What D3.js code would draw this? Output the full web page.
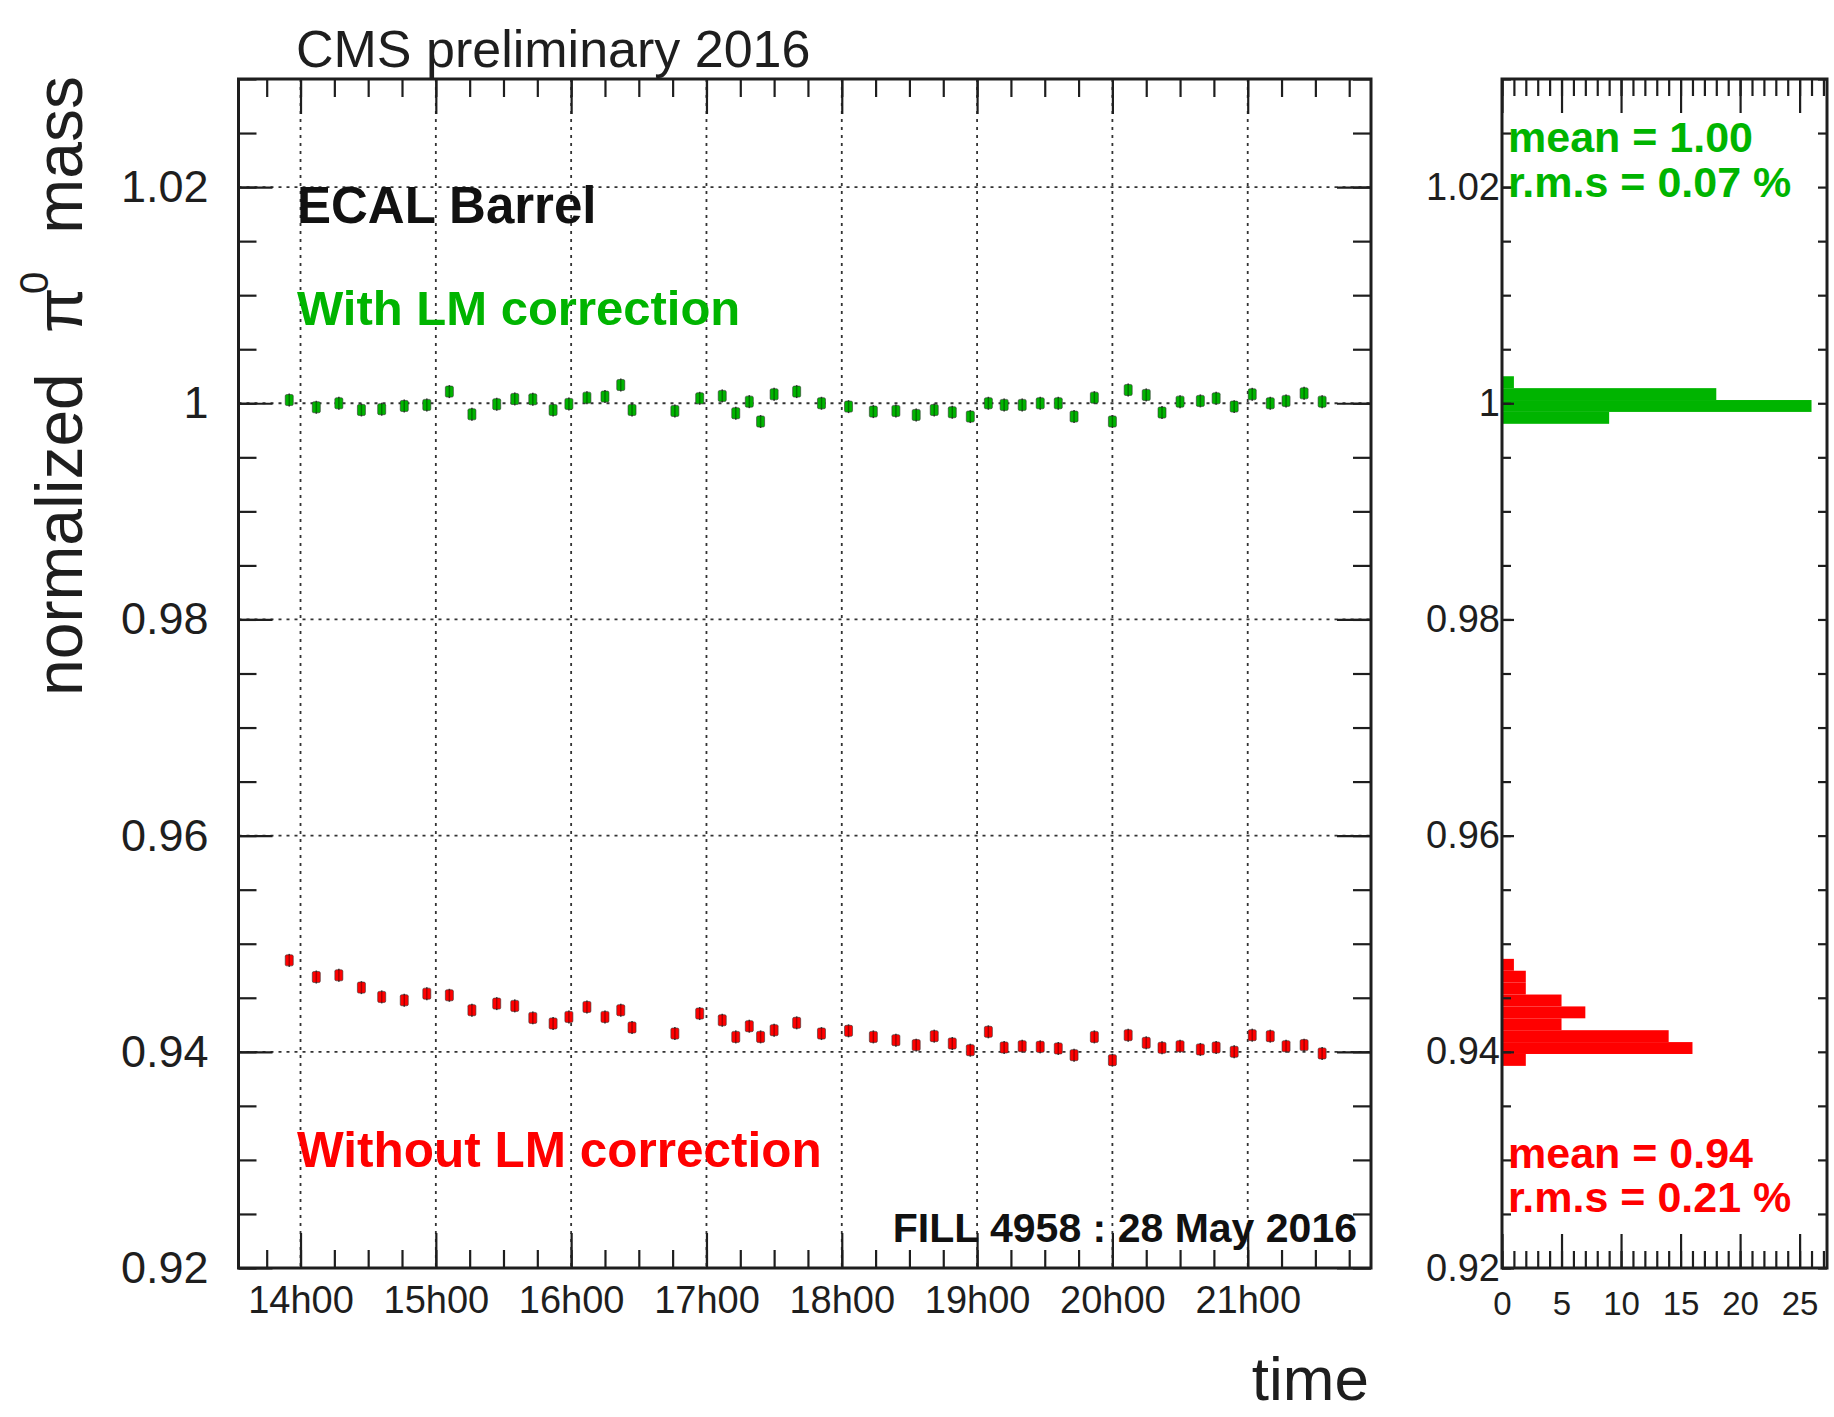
<!DOCTYPE html>
<html>
<head>
<meta charset="utf-8">
<script src="https://cdn.jsdelivr.net/npm/d3@7"></script>
<style>
  html, body { margin: 0; padding: 0; background: #fff; }
  svg { display: block; }
  text { font-family: "Liberation Sans", Arial, Helvetica, sans-serif; }
</style>
</head>
<body>
<svg id="chart" width="1834" height="1417"></svg>
<script>
// ---------------- DATA ----------------
const times = ["13:55","14:07","14:17","14:27","14:36","14:46","14:56","15:06","15:16","15:27",
  "15:35","15:43","15:52","15:59","16:07","16:15","16:22","16:27","16:46","16:57",
  "17:07","17:13","17:19","17:24","17:30","17:40","17:51","18:03","18:14","18:24",
  "18:33","18:41","18:49","18:57","19:05","19:12","19:20","19:28","19:36","19:43",
  "19:52","20:00","20:07","20:15","20:22","20:30","20:39","20:46","20:54","21:02",
  "21:10","21:17","21:25","21:33"];
const withLM = [1.00030,0.99963,1.00000,0.99938,0.99945,0.99975,0.99985,1.00108,0.99898,0.99991,
  1.00040,1.00037,0.99938,0.99994,1.00052,1.00062,1.00169,0.99938,0.99929,1.00046,
  1.00068,0.99908,1.00015,0.99831,1.00083,1.00108,1.00000,0.99969,0.99923,0.99929,
  0.99892,0.99938,0.99917,0.99877,1.00000,0.99985,0.99985,1.00000,1.00000,0.99877,
  1.00052,0.99831,1.00123,1.00077,0.99914,1.00015,1.00022,1.00046,0.99969,1.00083,
  1.00000,1.00022,1.00092,1.00015];
const withoutLM = [0.94846,0.94692,0.94708,0.94594,0.94508,0.94477,0.94538,0.94523,0.94385,0.94446,
  0.94425,0.94314,0.94262,0.94323,0.94415,0.94323,0.94385,0.94225,0.94169,0.94354,
  0.94292,0.94138,0.94237,0.94138,0.94200,0.94268,0.94169,0.94194,0.94138,0.94108,
  0.94062,0.94145,0.94077,0.94015,0.94185,0.94040,0.94052,0.94046,0.94031,0.93969,
  0.94138,0.93923,0.94154,0.94083,0.94037,0.94052,0.94022,0.94040,0.94000,0.94154,
  0.94145,0.94052,0.94062,0.93985];
const pointError = 0.0006;

// projection histograms (bin low edges, width 0.0011)
const binWidth = 0.0011;
const greenBinLow = [0.9981, 0.9992, 1.0003, 1.0014];
const greenCounts = [9, 26, 18, 1];
const redBinLow = [0.9387, 0.9398, 0.9409, 0.9420, 0.9431, 0.9442, 0.9453, 0.9464, 0.9475];
const redCounts = [2, 16, 14, 5, 7, 5, 2, 2, 1];

const yMajorTicks = [0.92, 0.94, 0.96, 0.98, 1.00, 1.02];
const histXTicks = [0, 5, 10, 15, 20, 25];
const timeDomain = ["13:32:30", "21:54:40"];
const yDomain = [0.92, 1.03];
const histXMax = 27.3;

// ---------------- LAYOUT ----------------
const GREEN = "#00b400", RED = "#ff0000", INK = "#1e1e1e";
const main = {left: 238.5, right: 1371, top: 79, bottom: 1268};
const hist = {left: 1502, right: 1827, top: 79, bottom: 1268};

const svg = d3.select("#chart");
const parseHM = d3.timeParse("%Y-%m-%d %H:%M");
const parseHMS = d3.timeParse("%Y-%m-%d %H:%M:%S");
const day = "2016-05-28 ";
const tDates = times.map(t => parseHM(day + t));

const x = d3.scaleTime()
  .domain(timeDomain.map(t => parseHMS(day + t)))
  .range([main.left, main.right]);
const y = d3.scaleLinear().domain(yDomain).range([main.bottom, main.top]);
const xh = d3.scaleLinear().domain([0, histXMax]).range([hist.left, hist.right]);

const minorY = d3.range(184, 207).map(v => v / 200); // every 0.005
const fmtY = d => String(+d.toFixed(2));

function styleAxis(g, fs) {
  g.select(".domain").remove();
  g.selectAll(".tick line").attr("stroke", INK).attr("stroke-width", 2.2);
  g.selectAll(".tick text").attr("fill", INK).attr("font-size", fs)
    .attr("font-family", "'Liberation Sans', Arial, sans-serif");
}

// ---------------- MAIN PANEL ----------------
const grid = svg.append("g").attr("stroke", "#333").attr("stroke-width", 1.8)
  .attr("stroke-dasharray", "3,5");
grid.selectAll("line.v").data(x.ticks(d3.timeHour.every(1))).join("line")
  .attr("x1", d => x(d)).attr("x2", d => x(d)).attr("y1", main.top).attr("y2", main.bottom);
grid.selectAll("line.h").data(yMajorTicks).join("line").attr("class", "h")
  .attr("x1", main.left).attr("x2", main.right).attr("y1", d => y(d)).attr("y2", d => y(d));

// bottom axis
svg.append("g").attr("transform", `translate(0,${main.bottom})`)
  .call(d3.axisBottom(x).ticks(d3.timeMinute.every(15)).tickSize(-18).tickFormat(""))
  .call(g => styleAxis(g, 0));
svg.append("g").attr("transform", `translate(0,${main.bottom})`)
  .call(d3.axisBottom(x).ticks(d3.timeHour.every(1)).tickSize(-35).tickPadding(18)
    .tickFormat(d3.timeFormat("%Hh%M")))
  .call(g => styleAxis(g, 38));
// top axis
svg.append("g").attr("transform", `translate(0,${main.top})`)
  .call(d3.axisTop(x).ticks(d3.timeMinute.every(15)).tickSize(-18).tickFormat(""))
  .call(g => styleAxis(g, 0));
svg.append("g").attr("transform", `translate(0,${main.top})`)
  .call(d3.axisTop(x).ticks(d3.timeHour.every(1)).tickSize(-35).tickFormat(""))
  .call(g => styleAxis(g, 0));
// left axis
svg.append("g").attr("transform", `translate(${main.left},0)`)
  .call(d3.axisLeft(y).tickValues(minorY).tickSize(-18).tickFormat(""))
  .call(g => styleAxis(g, 0));
svg.append("g").attr("transform", `translate(${main.left},0)`)
  .call(d3.axisLeft(y).tickValues(yMajorTicks).tickSize(-34).tickPadding(30).tickFormat(fmtY))
  .call(g => styleAxis(g, 45));
// right axis
svg.append("g").attr("transform", `translate(${main.right},0)`)
  .call(d3.axisRight(y).tickValues(minorY).tickSize(-18).tickFormat(""))
  .call(g => styleAxis(g, 0));
svg.append("g").attr("transform", `translate(${main.right},0)`)
  .call(d3.axisRight(y).tickValues(yMajorTicks).tickSize(-34).tickFormat(""))
  .call(g => styleAxis(g, 0));

svg.append("rect").attr("x", main.left).attr("y", main.top)
  .attr("width", main.right - main.left).attr("height", main.bottom - main.top)
  .attr("fill", "none").attr("stroke", INK).attr("stroke-width", 3);

// data points
function drawSeries(values, color) {
  const g = svg.append("g");
  const pts = values.map((v, i) => ({t: tDates[i], v}));
  g.selectAll("line.err").data(pts).join("line")
    .attr("x1", d => x(d.t)).attr("x2", d => x(d.t))
    .attr("y1", d => y(d.v - pointError)).attr("y2", d => y(d.v + pointError))
    .attr("stroke", "#333").attr("stroke-width", 1.6);
  g.selectAll("rect").data(pts).join("rect")
    .attr("x", d => x(d.t) - 4).attr("y", d => y(d.v) - 5.5)
    .attr("width", 8).attr("height", 11).attr("rx", 1.5)
    .attr("fill", color).attr("stroke", "#333").attr("stroke-width", 0.6);
  g.selectAll("line.c").data(pts).join("line")
    .attr("x1", d => x(d.t)).attr("x2", d => x(d.t))
    .attr("y1", d => y(d.v) - 5.5).attr("y2", d => y(d.v) + 5.5)
    .attr("stroke", "rgba(0,0,0,0.35)").attr("stroke-width", 1.5);
}
drawSeries(withLM, GREEN);
drawSeries(withoutLM, RED);

// texts in main panel
svg.append("text").attr("x", 296).attr("y", 67).attr("font-size", 52).attr("fill", INK)
  .text("CMS preliminary 2016");
svg.append("text").attr("x", 297).attr("y", 223).attr("font-size", 51).attr("font-weight", "bold")
  .attr("fill", "#111").text("ECAL Barrel");
svg.append("text").attr("x", 297).attr("y", 325).attr("font-size", 49).attr("font-weight", "bold")
  .attr("fill", GREEN).text("With LM correction");
svg.append("text").attr("x", 297).attr("y", 1167).attr("font-size", 49.5).attr("font-weight", "bold")
  .attr("fill", RED).text("Without LM correction");
svg.append("text").attr("x", 1357).attr("y", 1242).attr("text-anchor", "end").attr("font-size", 41)
  .attr("font-weight", "bold").attr("fill", "#111").text("FILL 4958 : 28 May 2016");
svg.append("text").attr("x", 1369).attr("y", 1400).attr("text-anchor", "end").attr("font-size", 62)
  .attr("fill", INK).text("time");

// y-axis title
const yt = svg.append("g").attr("transform", "translate(82,0) rotate(-90)").attr("fill", INK);
yt.append("text").attr("x", -696).attr("y", 0).attr("font-size", 66).text("normalized");
yt.append("text").attr("x", -333).attr("y", 0).attr("font-size", 66)
  .attr("font-family", "'Liberation Serif', 'DejaVu Serif', serif").text("π");
yt.append("text").attr("x", -294).attr("y", -34).attr("font-size", 40).text("0");
yt.append("text").attr("x", -76).attr("y", 0).attr("font-size", 66).attr("text-anchor", "end").text("mass");

// ---------------- HISTOGRAM PANEL ----------------
function drawHist(lows, counts, color) {
  svg.append("g").selectAll("rect").data(lows.map((lo, i) => ({lo, c: counts[i]}))).join("rect")
    .attr("x", xh(0)).attr("y", d => y(d.lo + binWidth))
    .attr("width", d => xh(d.c) - xh(0)).attr("height", d => y(d.lo) - y(d.lo + binWidth))
    .attr("fill", color);
}
drawHist(greenBinLow, greenCounts, GREEN);
drawHist(redBinLow, redCounts, RED);

const histMinorX = d3.range(0, 28);
svg.append("g").attr("transform", `translate(0,${hist.bottom})`)
  .call(d3.axisBottom(xh).tickValues(histMinorX).tickSize(-17).tickFormat(""))
  .call(g => styleAxis(g, 0));
svg.append("g").attr("transform", `translate(0,${hist.bottom})`)
  .call(d3.axisBottom(xh).tickValues(histXTicks).tickSize(-34).tickPadding(24).tickFormat(d3.format("d")))
  .call(g => styleAxis(g, 33));
svg.append("g").attr("transform", `translate(0,${hist.top})`)
  .call(d3.axisTop(xh).tickValues(histMinorX).tickSize(-17).tickFormat(""))
  .call(g => styleAxis(g, 0));
svg.append("g").attr("transform", `translate(0,${hist.top})`)
  .call(d3.axisTop(xh).tickValues(histXTicks).tickSize(-34).tickFormat(""))
  .call(g => styleAxis(g, 0));
svg.append("g").attr("transform", `translate(${hist.left},0)`)
  .call(d3.axisLeft(y).tickValues(minorY).tickSize(-9).tickFormat(""))
  .call(g => styleAxis(g, 0));
svg.append("g").attr("transform", `translate(${hist.left},0)`)
  .call(d3.axisLeft(y).tickValues(yMajorTicks).tickSize(-12).tickPadding(2).tickFormat(fmtY))
  .call(g => styleAxis(g, 38));
svg.append("g").attr("transform", `translate(${hist.right},0)`)
  .call(d3.axisRight(y).tickValues(minorY).tickSize(-9).tickFormat(""))
  .call(g => styleAxis(g, 0));

svg.append("rect").attr("x", hist.left).attr("y", hist.top)
  .attr("width", hist.right - hist.left).attr("height", hist.bottom - hist.top)
  .attr("fill", "none").attr("stroke", INK).attr("stroke-width", 3);

const statText = [
  {t: "mean = 1.00", y: 152, c: GREEN},
  {t: "r.m.s = 0.07 %", y: 197, c: GREEN},
  {t: "mean = 0.94", y: 1168, c: RED},
  {t: "r.m.s = 0.21 %", y: 1212, c: RED}
];
svg.append("g").selectAll("text").data(statText).join("text")
  .attr("x", 1508).attr("y", d => d.y).attr("font-size", 43).attr("font-weight", "bold")
  .attr("fill", d => d.c).text(d => d.t);
</script>
</body>
</html>
